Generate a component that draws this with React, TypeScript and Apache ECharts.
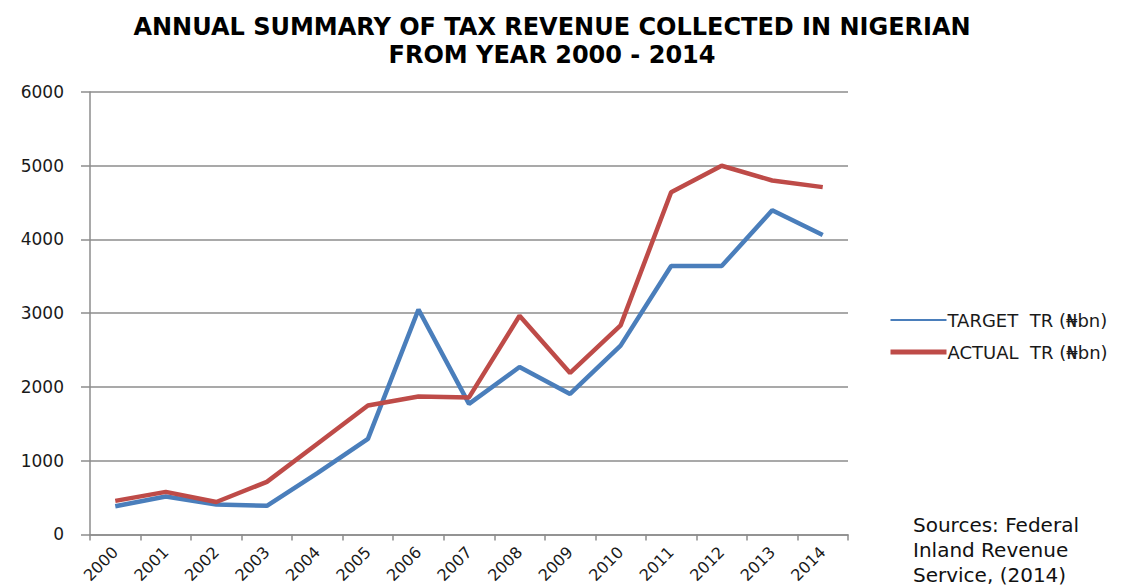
import React, { useEffect, useRef } from "react";
import * as echarts from "echarts";

const years = ["2000","2001","2002","2003","2004","2005","2006","2007","2008","2009","2010","2011","2012","2013","2014"];
const targetTR = [383, 515, 405, 388, 830, 1295, 3050, 1770, 2270, 1905, 2560, 3640, 3640, 4395, 4060];
const actualTR = [455, 577, 440, 713, 1230, 1748, 1870, 1858, 2965, 2190, 2835, 4640, 5000, 4800, 4710];
const yTicks = { min: 0, max: 6000, interval: 1000 };
const titleText = "ANNUAL SUMMARY OF TAX REVENUE COLLECTED IN NIGERIAN\nFROM YEAR 2000 - 2014";
const targetName = "TARGET  TR (₦bn)";
const actualName = "ACTUAL  TR (₦bn)";
const sourceText = "Sources: Federal\nInland Revenue\nService, (2014)";

const BLUE = "#4A7EBB";
const RED = "#BE4B48";
const GRID = "#8C8C8C";
const FONT = "DejaVu Sans";

export default function App() {
  const ref = useRef<HTMLDivElement>(null);
  useEffect(() => {
    document.body.style.margin = "0";
    const chart = echarts.init(ref.current!, null, { renderer: "svg" });
    chart.setOption({
      animation: false,
      backgroundColor: "#ffffff",
      title: {
        text: titleText,
        left: 547,
        top: 8,
        textAlign: "center",
        textStyle: {
          fontFamily: FONT,
          fontWeight: "bold",
          fontSize: 24,
          lineHeight: 28,
          color: "#000000",
        },
      },
      grid: { left: 90, right: 285, top: 92, bottom: 50, containLabel: false },
      legend: {
        orient: "vertical",
        left: 883,
        top: 306,
        itemGap: 14,
        itemWidth: 56,
        itemHeight: 18,
        textStyle: { fontFamily: FONT, fontSize: 18, color: "#1a1a1a", padding: [0, 0, 0, -4] },
        data: [
          { name: targetName, itemStyle: { color: BLUE, opacity: 0 }, lineStyle: { width: 2, color: BLUE } },
          { name: actualName, itemStyle: { color: RED, opacity: 0 }, lineStyle: { width: 5, color: RED } },
        ],
      },
      xAxis: {
        type: "category",
        data: years,
        boundaryGap: true,
        axisLine: { show: true, lineStyle: { color: GRID, width: 1.5 } },
        axisTick: { show: true, length: 6, lineStyle: { color: GRID, width: 1.5 } },
        axisLabel: {
          rotate: 45,
          interval: 0,
          margin: 15,
          fontFamily: FONT,
          fontSize: 16,
          color: "#1a1a1a",
        },
        splitLine: { show: false },
      },
      yAxis: {
        type: "value",
        min: yTicks.min,
        max: yTicks.max,
        interval: yTicks.interval,
        axisLine: { show: true, lineStyle: { color: GRID, width: 1.5 } },
        axisTick: { show: true, length: 9, lineStyle: { color: GRID, width: 1.5 } },
        axisLabel: {
          margin: 26,
          fontFamily: FONT,
          fontSize: 17,
          color: "#1a1a1a",
          formatter: (v: number) => String(v),
        },
        splitLine: { show: true, lineStyle: { color: GRID, width: 1.5 } },
      },
      series: [
        {
          name: targetName,
          type: "line",
          data: targetTR,
          symbol: "none",
          color: BLUE,
          lineStyle: { color: BLUE, width: 4.5 },
        },
        {
          name: actualName,
          type: "line",
          data: actualTR,
          symbol: "none",
          color: RED,
          lineStyle: { color: RED, width: 4.5 },
        },
      ],
      graphic: [
        {
          type: "text",
          left: 913,
          top: 512,
          style: {
            text: sourceText,
            fontFamily: FONT,
            fontSize: 20,
            lineHeight: 25,
            fill: "#111111",
          },
        },
      ],
    });
    return () => chart.dispose();
  }, []);
  return <div ref={ref} style={{ width: 1133, height: 586 }} />;
}
